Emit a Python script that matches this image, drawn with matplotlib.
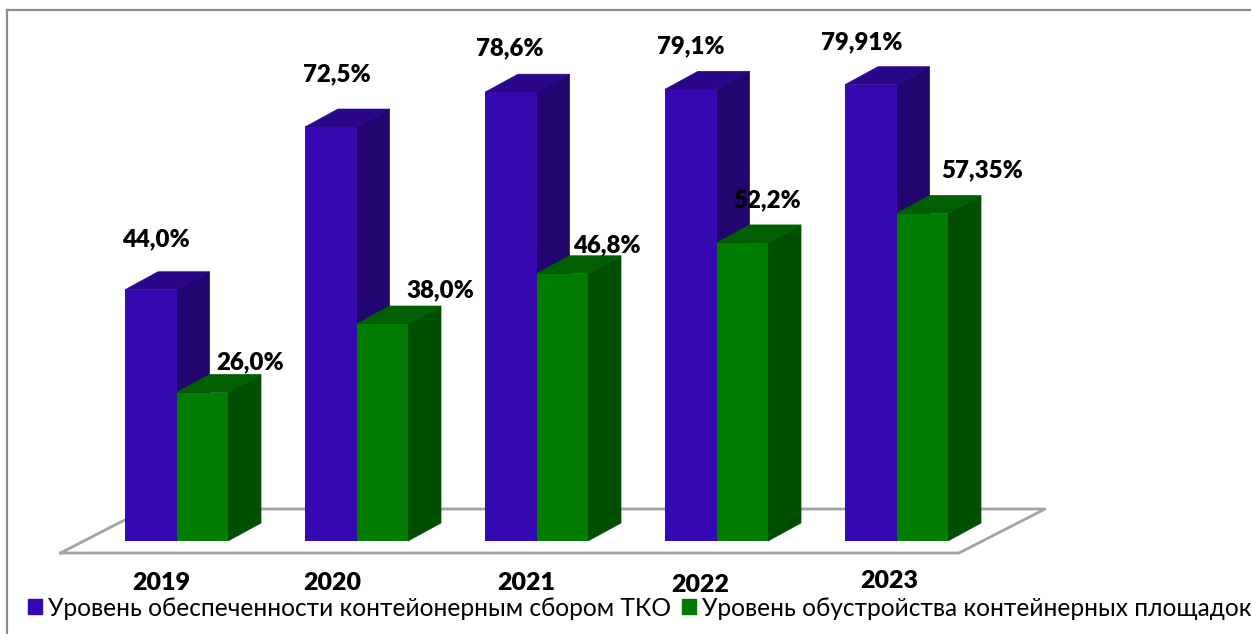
import matplotlib
matplotlib.use("Agg")
import matplotlib.pyplot as plt
from matplotlib.lines import Line2D
from matplotlib.patches import Patch

plt.rcParams['font.family'] = ['Lato', 'Open Sans', 'DejaVu Sans']

years = ["2019", "2020", "2021", "2022", "2023"]
collection = [44.0, 72.5, 78.6, 79.1, 79.91]
sites = [26.0, 38.0, 46.8, 52.2, 57.35]
collection_labels = ["44,0%", "72,5%", "78,6%", "79,1%", "79,91%"]
sites_labels = ["26,0%", "38,0%", "46,8%", "52,2%", "57,35%"]
series_names = ["Уровень обеспеченности контейонерным сбором ТКО",
                "Уровень обустройства контейнерных площадок"]

W, H = 1251, 634
PX_X = 180.0        # pixels per category
PX_Y = 5.71         # pixels per percent
X0, Y0 = 176.5, 541  # pixel position of first group centre / baseline
bar_w = 51.5 / PX_X
dx = 33 / PX_X      # 3d depth
dy = 18 / PX_Y

fig = plt.figure(figsize=(W / 100, H / 100), dpi=100)
ax = fig.add_axes([0, 0, 1, 1])
ax.set_xlim(-X0 / PX_X, (W - X0) / PX_X)
ax.set_ylim(-(H - Y0) / PX_Y, Y0 / PX_Y)
ax.axis("off")


def px(x, y):
    return (x - X0) / PX_X, (Y0 - y) / PX_Y


# frame of the picture
frame = dict(color="#8c8c8c", lw=1.6, transform=fig.transFigure)
fig.add_artist(Line2D([7 / W, 7 / W], [0, 1 - 10 / H], **frame))
fig.add_artist(Line2D([7 / W, 1], [1 - 10 / H, 1 - 10 / H], **frame))

# floor
floor = [px(60.5, 553), px(959, 553), px(1045, 509), px(146, 509), px(60.5, 553)]
ax.plot([p[0] for p in floor], [p[1] for p in floor], color="#a3a3a3", lw=2, zorder=1)


def bar3d(x, h, front, side, top, z):
    r = x + bar_w
    ax.fill([r, r + dx, r + dx, r], [0, dy, h + dy, h], color=side, zorder=z + 1, linewidth=0.5)
    ax.fill([x, x + dx, r + dx, r], [h, h + dy, h + dy, h], color=top, zorder=z + 1, linewidth=0.5)
    ax.bar(x, h, width=bar_w, align="edge", color=front, zorder=z + 2, linewidth=0)


for i in range(len(years)):
    z = 2 + i * 10
    bar3d(i - bar_w, collection[i], "#3608b2", "#230570", "#2a0688", z)
    bar3d(i, sites[i], "#007c00", "#004f00", "#005f00", z + 3)

label_font = dict(fontsize=17.3, fontweight="heavy", ha="center", va="center", color="black", zorder=100)

# label offsets from the top of the front face, pixels
collection_off = [(5, 50), (6, 53), (-1, 44), (0, 43), (-9, 42)]
sites_off = [(1, 30), (11, 34), (-2, 28), (-22, 43), (13, 43)]
for i in range(len(years)):
    ax.annotate(collection_labels[i], (i - bar_w / 2, collection[i]), xytext=collection_off[i],
                textcoords="offset pixels", **label_font)
    ax.annotate(sites_labels[i], (i + bar_w / 2, sites[i]), xytext=(sites_off[i][0] + 47, sites_off[i][1]),
                textcoords="offset pixels", **label_font)

year_pos = [(161, 583), (332, 583), (526, 583), (700, 585), (889, 581)]
for y, (xp, yp) in zip(years, year_pos):
    ax.text(*px(xp, yp), y, fontsize=18, fontweight="heavy", ha="center", va="center", color="black")

handles = [Patch(color="#3608b2", label=series_names[0]), Patch(color="#007c00", label=series_names[1])]
ax.legend(handles=handles, loc="center left", bbox_to_anchor=(28 / W, 1 - 608 / H), ncol=2, frameon=False,
          fontsize=17.65, handlelength=0.58, handleheight=0.58, handletextpad=0.25, columnspacing=0.42,
          borderpad=0, borderaxespad=0, labelcolor="black")

fig.savefig("out.png", dpi=100)
